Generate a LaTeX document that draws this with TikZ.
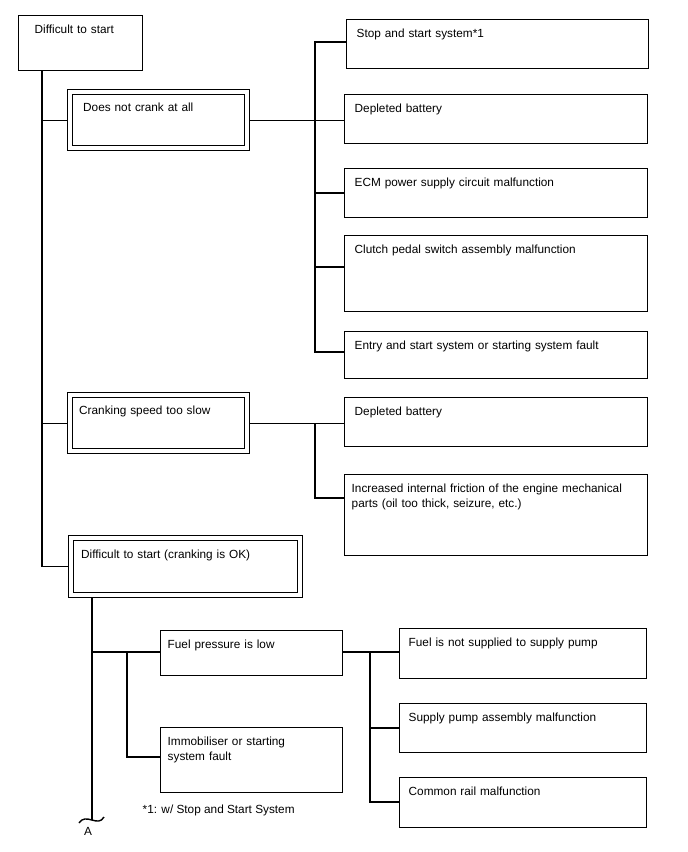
\documentclass[tikz,border=0pt]{standalone}
\usepackage{fontspec}
\setmainfont{Liberation Sans}

\begin{document}
\begin{tikzpicture}[
	x=1pt, y=-1pt, line width=1.4pt,
	font=\fontsize{11.8}{15}\selectfont,
	cause/.style={draw, rectangle, anchor=north west, align=left,
		inner xsep=10pt, inner ysep=8pt, text height=10pt},
	fault/.style={cause, double, double distance=3.6pt, outer sep=3.2pt}
	]
	\useasboundingbox (0,0) rectangle (688,852);

	\node[cause, inner xsep=16pt, text width=92pt, text depth=29pt] (start) at (18,15) {Difficult to start};
	\node[fault, inner xsep=13pt, text width=151pt, text depth=29pt, text height=11pt] (nocrank) at (67,89) {Does not crank at all};
	\node[fault, inner xsep=9pt, text width=159pt, text depth=29pt, text height=11pt] (slow) at (67,392) {Cranking speed too slow};
	\node[fault, inner xsep=10pt, text width=209pt, text depth=29pt, text height=12pt] (crankok) at (68,535) {Difficult to start (cranking is OK)};

	\node[cause, text width=282pt, text depth=23pt] (sss) at (346,19) {Stop and start system*1};
	\node[cause, text width=283pt, text depth=23pt] (bat1) at (344,94) {Depleted battery};
	\node[cause, text width=283pt, text depth=23pt] (ecm) at (344,168) {ECM power supply circuit malfunction};
	\node[cause, text width=283pt, text depth=50pt] (clutch) at (344,235) {Clutch pedal switch assembly malfunction};
	\node[cause, text width=283pt, text depth=21pt] (entry) at (344,331) {Entry and start system or starting system fault};
	\node[cause, text width=283pt, text depth=23pt] (bat2) at (344,397) {Depleted battery};
	\node[cause, inner xsep=7pt, text width=289pt, text depth=55pt] (friction) at (344,474) {Increased internal friction of the engine mechanical\\parts (oil too thick, seizure, etc.)};

	\node[cause, inner xsep=7pt, text width=168pt, text depth=19pt] (fuellow) at (160,630) {Fuel pressure is low};
	\node[cause, inner xsep=7pt, text width=168pt, text depth=39pt] (immob) at (160,727) {Immobiliser or starting\\system fault};
	\node[cause, inner xsep=9pt, text width=229pt, text depth=24pt] (nofuel) at (399,628) {Fuel is not supplied to supply pump};
	\node[cause, inner xsep=9pt, text width=229pt, text depth=23pt] (pump) at (399,703) {Supply pump assembly malfunction};
	\node[cause, inner xsep=9pt, text width=229pt, text depth=24pt] (rail) at (399,777) {Common rail malfunction};

	\node[anchor=west, inner sep=0pt] (note) at (142,810) {*1: w/ Stop and Start System};

	% bus lines
	\coordinate (trunk) at (42,0);
	\coordinate (busA) at (315,0);
	\coordinate (trunkB) at (92,0);
	\coordinate (busC) at (127,0);
	\coordinate (busD) at (370,0);
	\coordinate (tail) at (92,820);
	\foreach \b/\d in {sss/23, bat1/24, ecm/25, clutch/32, entry/21, bat2/25, friction/24,
		fuellow/22, immob/30, nofuel/24, pump/25, rail/25}
		\coordinate (\b-in) at ([yshift=-\d pt]\b.north west);

	\draw (start.south -| trunk) -- (crankok.west -| trunk) -- (crankok.west);
	\draw (nocrank.west -| trunk) -- (nocrank.west);
	\draw (slow.west -| trunk) -- (slow.west);

	\draw (nocrank.east) -- (nocrank.east -| bat1.west);
	\draw (sss-in) -| (entry-in -| busA) -- (entry-in);
	\foreach \b in {ecm, clutch}
		\draw (\b-in -| busA) -- (\b-in);

	\draw (slow.east) -- (slow.east -| bat2.west);
	\draw (slow.east -| busA) |- (friction-in);

	\draw (crankok.south -| trunkB) -- (tail);
	\draw (fuellow-in -| trunkB) -- (fuellow-in);
	\draw (fuellow-in -| busC) |- (immob-in);
	\draw (fuellow-in -| fuellow.east) -- (fuellow-in -| nofuel.west);
	\draw (nofuel-in -| busD) |- (rail-in);
	\draw (pump-in -| busD) -- (pump-in);

	% break mark
	\draw ([shift={(-13,3)}]tail) .. controls ([shift={(-6,-8)}]tail) and ([shift={(6,8)}]tail) .. ([shift={(12,-3)}]tail);
	\node[inner sep=0pt] (mark) at (88,831) {A};
\end{tikzpicture}
\end{document}
